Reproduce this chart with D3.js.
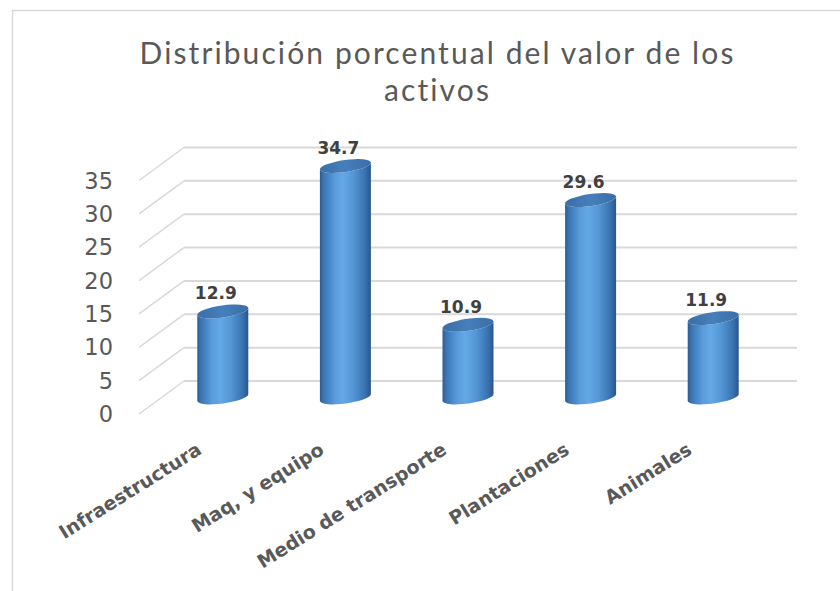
<!DOCTYPE html>
<html>
<head>
<meta charset="utf-8">
<script src="https://cdn.jsdelivr.net/npm/d3@7"></script>
<style>
  html, body { margin: 0; padding: 0; background: #fff; }
  svg { display: block; }
</style>
</head>
<body>
<div id="chart"></div>
<script>
// Datos
const categories = ['Infraestructura', 'Maq, y equipo', 'Medio de transporte', 'Plantaciones', 'Animales'];
const values = [12.9, 34.7, 10.9, 29.6, 11.9];
const yTicks = [0, 5, 10, 15, 20, 25, 30, 35];
const titleLines = ['Distribución porcentual del valor de los', 'activos'];

const width = 840, height = 591;

// perspectiva del piso (desplazamiento del fondo)
const depthX = 45, depthY = -33;

const svg = d3.select('#chart')
  .append('svg')
  .attr('width', width)
  .attr('height', height);

// Borde del área del gráfico
svg.append('path')
  .attr('d', `M12.5,${height} L12.5,10.5 L${width},10.5`)
  .attr('fill', 'none')
  .attr('stroke', '#d9d9d9')
  .attr('stroke-width', 1.5);

// Título
svg.append('text')
  .attr('y', 63.5)
  .attr('text-anchor', 'middle')
  .attr('font-family', 'Lato, "Open Sans", sans-serif')
  .attr('font-size', 30)
  .attr('letter-spacing', 2.1)
  .attr('fill', '#595959')
  .selectAll('tspan')
  .data(titleLines)
  .enter()
  .append('tspan')
  .attr('x', 437.5)
  .attr('dy', (d, i) => i === 0 ? 0 : 37)
  .text(d => d);

// Escalas (plano frontal)
const x = d3.scaleBand()
  .domain(categories)
  .range([139, 752]);

const y = d3.scaleLinear()
  .domain([0, 35])
  .range([414, 180.5]);

// Cuadrícula: diagonal del piso/pared + línea en la pared del fondo
const grid = svg.append('g');

grid.selectAll('line.diag')
  .data(yTicks)
  .enter()
  .append('line')
  .attr('class', 'diag')
  .attr('x1', x.range()[0])
  .attr('y1', d => y(d))
  .attr('x2', x.range()[0] + depthX)
  .attr('y2', d => y(d) + depthY)
  .attr('stroke', '#d9d9d9')
  .attr('stroke-width', 1.5);

grid.selectAll('line.back')
  .data(yTicks)
  .enter()
  .append('line')
  .attr('class', 'back')
  .attr('x1', x.range()[0] + depthX)
  .attr('y1', d => y(d) + depthY)
  .attr('x2', x.range()[1] + depthX)
  .attr('y2', d => y(d) + depthY)
  .attr('stroke', '#d9d9d9')
  .attr('stroke-width', 2);

// Etiquetas del eje Y
svg.append('g')
  .selectAll('text')
  .data(yTicks)
  .enter()
  .append('text')
  .attr('x', 113)
  .attr('y', d => y(d))
  .attr('dy', '0.36em')
  .attr('text-anchor', 'end')
  .attr('font-family', '"DejaVu Sans", sans-serif')
  .attr('font-size', 22.5)
  .attr('fill', '#595959')
  .text(d => d);

// Gradientes de los cilindros
const defs = svg.append('defs');
const bodyGrad = defs.append('linearGradient')
  .attr('id', 'cylBody')
  .attr('x1', 0).attr('x2', 1).attr('y1', 0).attr('y2', 0);
[
  [0, '#2c5b91'], [0.07, '#3a74b4'], [0.3, '#5a9ddc'], [0.45, '#64a8e6'],
  [0.65, '#5597d6'], [0.88, '#3a73b2'], [1, '#2a568a']
].forEach(s => bodyGrad.append('stop').attr('offset', s[0]).attr('stop-color', s[1]));

const topGrad = defs.append('linearGradient')
  .attr('id', 'cylTop')
  .attr('x1', 0).attr('x2', 1).attr('y1', 0).attr('y2', 0);
[
  [0, '#3a6fa8'], [0.5, '#467fbb'], [1, '#3a6ea6']
].forEach(s => topGrad.append('stop').attr('offset', s[0]).attr('stop-color', s[1]));

// Cilindros en la mitad de la profundidad
const midX = depthX / 2, midY = depthY / 2;
const rx = x.bandwidth() * 0.21, ry = 6;
const tilt = -8;
const ct = Math.cos(tilt * Math.PI / 180), st = Math.sin(tilt * Math.PI / 180);

const bars = svg.append('g')
  .selectAll('g')
  .data(values)
  .enter()
  .append('g');

function cylPath(cx, yt, yb) {
  const lx = cx - rx * ct, rxp = cx + rx * ct;
  return `M${lx},${yt - rx * st} L${lx},${yb - rx * st}` +
    ` A${rx},${ry} ${tilt} 0 0 ${rxp},${yb + rx * st}` +
    ` L${rxp},${yt + rx * st}` +
    ` A${rx},${ry} ${tilt} 0 1 ${lx},${yt - rx * st} Z`;
}

bars.append('path')
  .attr('d', (d, i) => {
    const cx = x(categories[i]) + x.bandwidth() / 2 + midX;
    return cylPath(cx, y(d) + midY, y(0) + midY);
  })
  .attr('fill', 'url(#cylBody)');

bars.append('ellipse')
  .attr('cx', 0)
  .attr('cy', 0)
  .attr('rx', rx)
  .attr('ry', ry)
  .attr('transform', (d, i) => {
    const cx = x(categories[i]) + x.bandwidth() / 2 + midX;
    return `translate(${cx},${y(d) + midY}) rotate(${tilt})`;
  })
  .attr('fill', 'url(#cylTop)');

// Etiquetas de datos
bars.append('text')
  .attr('x', (d, i) => x(categories[i]) + x.bandwidth() / 2 + midX - 7)
  .attr('y', d => y(d) + midY - 12)
  .attr('text-anchor', 'middle')
  .attr('font-family', '"DejaVu Sans", sans-serif')
  .attr('font-weight', 'bold')
  .attr('font-size', 17)
  .attr('fill', '#404040')
  .text(d => d.toFixed(1));

// Etiquetas de categorías (rotadas)
svg.append('g')
  .selectAll('text')
  .data(categories)
  .enter()
  .append('text')
  .attr('transform', d => `translate(${x(d) + x.bandwidth() / 2 + midX - 20},453) rotate(-32)`)
  .attr('text-anchor', 'end')
  .attr('font-family', '"DejaVu Sans", Verdana, sans-serif')
  .attr('font-weight', 'bold')
  .attr('font-size', 19)
  .attr('fill', '#595959')
  .text(d => d);
</script>
</body>
</html>
